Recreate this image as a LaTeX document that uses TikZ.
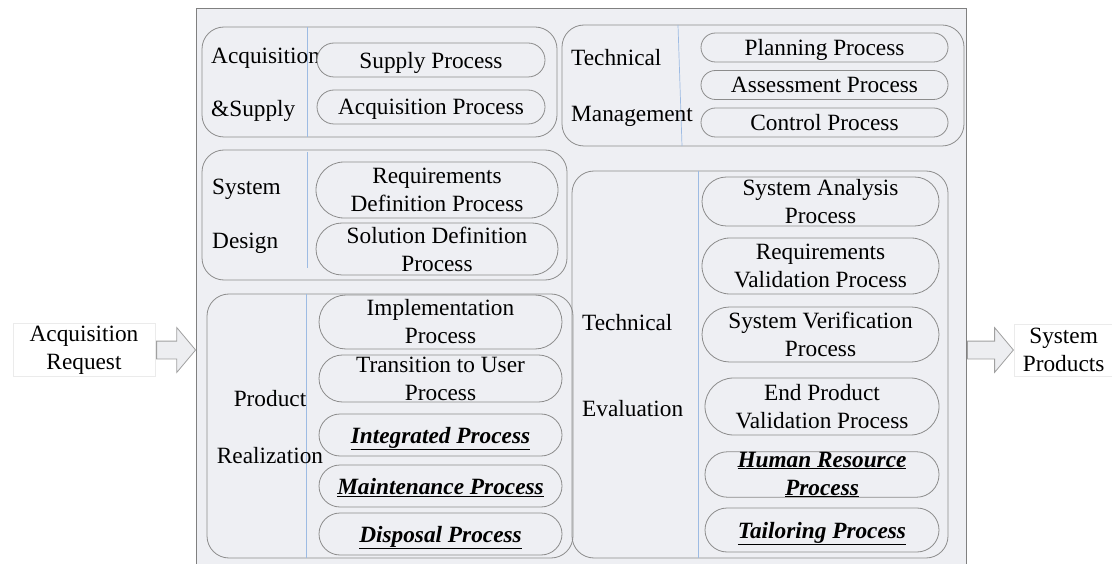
\documentclass[tikz,border=0pt]{standalone}
\usepackage{fontspec}
\setmainfont{Liberation Serif}
\usetikzlibrary{positioning,shapes.arrows}
\definecolor{panelfill}{HTML}{EEEFF3}
\definecolor{framegray}{HTML}{808080}
\definecolor{edgegray}{HTML}{8C8C8C}
\definecolor{splitblue}{HTML}{9DBBE3}
\definecolor{arrowfill}{HTML}{EDEEF1}
\definecolor{arrowedge}{HTML}{A0A0A0}
\newcommand{\bu}[1]{\textbf{\textit{\underline{#1}}}}
\begin{document}
\begin{tikzpicture}[x=1pt,y=-1pt,
  every node/.style={font=\fontsize{23.3}{28}\selectfont, inner sep=0pt},
  group/.style={draw=edgegray, line width=0.8pt, rounded corners=22pt},
  split/.style={draw=splitblue, line width=0.7pt},
  pill/.style 2 args={draw=edgegray, fill=panelfill, line width=0.8pt, minimum width=#1, minimum height=#2, rounded corners=#2/2, align=center},
  low/.style={text depth=0pt},
  outbox/.style={draw=black!8, fill=white, align=center},
  fatarrow/.style={single arrow, draw=arrowedge, fill=arrowfill, line width=0.8pt, minimum width=44, single arrow head extend=13.5, inner sep=8.5, single arrow tip angle=100}]
\useasboundingbox (0,0) rectangle (1112,564);
\node[draw=framegray, fill=panelfill, line width=0.8pt, minimum width=770, minimum height=570, anchor=north west] (panel) at (196,8) {};
\draw[group] (202,27) rectangle (557,137);
\draw[group] (562,25) rectangle (964,146);
\draw[group] (202,150) rectangle (567,280);
\draw[group] (207,294) rectangle (573,558);
\draw[group] (572,171) rectangle (948,558);
\draw[split] (307,27) -- (307,137);
\draw[split] (678,25) -- (682,146);
\draw[split] (307,152) -- (307,268);
\draw[split] (306,294) -- (306,558);
\draw[split] (698,171) -- (698,558);
\node[anchor=west] (asl1) at (211,58) {Acquisition};
\node[anchor=west] (asl2) at (211,111) {\&Supply};
\node[anchor=west] (tml1) at (571,58) {Technical};
\node[anchor=west] (tml2) at (571,116) {Management};
\node[anchor=west] (sdl1) at (212,189) {System};
\node[anchor=west] (sdl2) at (212,243) {Design};
\node (prl1) at (270,399) {Product};
\node (prl2) at (270,456) {Realization};
\node[anchor=west] (tel1) at (582,323) {Technical};
\node[anchor=west] (tel2) at (582,409) {Evaluation};
\node[pill={228}{34}, low] (sup) at (431,60) {Supply Process};
\node[pill={228}{34}, low] (acq) at (431,107) {Acquisition Process};
\node[pill={247}{29}, low] (pln) at (824.5,47.5) {Planning Process};
\node[pill={247}{29}, low] (ass) at (824.5,85) {Assessment Process};
\node[pill={247}{29}, low] (ctl) at (824.5,122.5) {Control Process};
\node[pill={242}{56}] (rqd) at (437,190) {Requirements\\Definition Process};
\node[pill={242}{52}] (sol) at (437,249) {Solution Definition\\Process};
\node[pill={243}{54}] (imp) at (440.5,322) {Implementation\\Process};
\node[pill={243}{47}] (trn) at (440.5,378.5) {Transition to User\\Process};
\node[pill={243}{42}, low] (itg) at (440.5,435) {\bu{Integrated Process}};
\node[pill={243}{42}, low] (mnt) at (440.5,486) {\bu{Maintenance Process}};
\node[pill={243}{42}, low] (dsp) at (440.5,534) {\bu{Disposal Process}};
\node[pill={237}{49}] (san) at (820.5,201.5) {System Analysis\\Process};
\node[pill={237}{56}] (rqv) at (820.5,266) {Requirements\\Validation Process};
\node[pill={237}{55}] (ver) at (820.5,334.5) {System Verification\\Process};
\node[pill={234}{57}] (epv) at (822,406.5) {End Product\\Validation Process};
\node[pill={234}{45}] (hum) at (822,474.5) {\bu{Human Resource}\\\bu{Process}};
\node[pill={234}{44}, low] (tlr) at (822,530) {\bu{Tailoring Process}};
\node[outbox, minimum width=142, minimum height=53] (req) at (84,350) {Acquisition\\Request};
\node[fatarrow, minimum height=39, right=1pt of req] (arin) {};
\node[fatarrow, minimum height=46, anchor=west] (arout) at (967,350) {};
\node[outbox, minimum width=99, minimum height=52, right=0pt of arout] (prod) {System\\Products};
\end{tikzpicture}
\end{document}
